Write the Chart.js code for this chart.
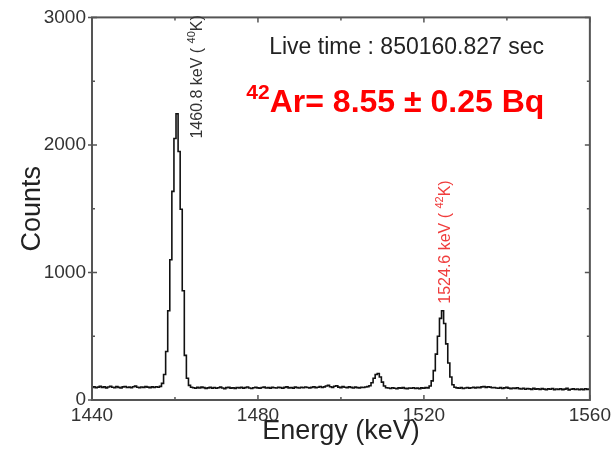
<!DOCTYPE html>
<html>
<head>
<meta charset="utf-8">
<script src="https://cdn.jsdelivr.net/npm/chart.js@4.4.0/dist/chart.umd.min.js"></script>
<style>
  html, body { margin: 0; padding: 0; background: #fff; }
</style>
</head>
<body>
<canvas id="spectrum" width="615" height="452"></canvas>
<script>
// Histogram bins: 0.5 keV wide, first bin centred at 1440 keV
const binStart = 1440;
const binWidth = 0.5;

// Counts per bin (1440.0 ... 1560.0 keV)
const counts = [
  // 1440.0 - 1456.5
  98, 104, 96, 101, 107, 99, 103, 95, 102, 108,
  100, 97, 105, 99, 94, 103, 106, 98, 101, 96,
  104, 109, 100, 97, 102, 99, 105, 101, 96, 103,
  98, 104, 100, 107,
  // 1457.0 - 1464.0  (40K line)
  130, 200, 380, 700, 1100, 1636, 2050, 2245, 1948, 1496,
  857, 350, 170, 115, 100,
  // 1464.5 - 1506.0
  96, 92, 99, 94, 101, 97, 90, 95, 100, 93,
  98, 92, 96, 101, 94, 89, 97, 99, 93, 96,
  91, 98, 95, 100, 93, 97, 102, 94, 90, 96,
  99, 95, 92, 98, 101, 94, 97, 93, 99, 96,
  94, 100, 97, 92, 99, 103, 95, 98, 93, 101,
  97, 94, 100, 96, 102, 98, 95, 99, 104, 97,
  100, 106, 98, 103, 110, 115, 104, 99, 108, 112,
  101, 97, 105, 100, 96, 103, 99, 94, 101, 97,
  95, 100, 98, 102,
  // 1506.5 - 1511.0
  105, 112, 135, 170, 200, 208, 180, 140, 110, 96,
  // 1511.5 - 1520.5
  94, 90, 96, 92, 88, 95, 93, 97, 91, 89,
  94, 92, 96, 90, 93, 88, 95, 92, 97,
  // 1521.0 - 1527.5  (42K line)
  95, 110, 150, 230, 360, 500, 640, 700, 600, 440,
  290, 180, 120, 100,
  // 1528.0 - 1560.0
  95, 92, 97, 90, 94, 98, 93, 96, 99, 95,
  100, 97, 103, 106, 99, 104, 101, 96, 98, 94,
  92, 97, 90, 95, 99, 93, 88, 94, 91, 96,
  89, 86, 92, 84, 90, 87, 83, 91, 85, 88,
  82, 89, 85, 80, 87, 84, 90, 81, 86, 83,
  88, 80, 85, 91, 79, 84, 87, 82, 86, 80,
  85, 81, 88, 83, 86
];

// Axis ticks
const xTicks = [1440, 1480, 1520, 1560];
const xMinorTicks = [1460, 1500, 1540];
const yTicks = [0, 1000, 2000, 3000];
const yMinorTicks = [500, 1500, 2500];

const FONT = "'Liberation Sans', Arial, Helvetica, sans-serif";

const points = counts.map((c, i) => ({ x: binStart + i * binWidth, y: c }));

// draw a run of text pieces (normal + superscript) starting at (0,0) of current transform
function drawRuns(ctx, runs) {
  let x = 0;
  runs.forEach(r => {
    ctx.font = r.font;
    ctx.fillText(r.text, x, r.dy || 0);
    x += ctx.measureText(r.text).width;
  });
  return x;
}

const framePlugin = {
  id: 'frameAndNotes',
  afterDraw(chart) {
    const ctx = chart.ctx;
    const a = chart.chartArea;
    const xs = chart.scales.x, ys = chart.scales.y;
    ctx.save();

    // frame
    ctx.strokeStyle = '#555';
    ctx.lineWidth = 2;
    ctx.strokeRect(a.left, a.top, a.right - a.left, a.bottom - a.top);

    // tick marks, pointing inwards
    ctx.lineWidth = 1.5;
    ctx.beginPath();
    xTicks.concat(xMinorTicks).forEach(v => {
      const px = xs.getPixelForValue(v);
      const len = xTicks.includes(v) ? 5 : 3;
      ctx.moveTo(px, a.bottom); ctx.lineTo(px, a.bottom - len);
      ctx.moveTo(px, a.top); ctx.lineTo(px, a.top + len);
    });
    yTicks.concat(yMinorTicks).forEach(v => {
      const py = ys.getPixelForValue(v);
      const len = yTicks.includes(v) ? 5 : 3;
      ctx.moveTo(a.left - (yTicks.includes(v) ? 4 : 0), py); ctx.lineTo(a.left + len, py);
      ctx.moveTo(a.right, py); ctx.lineTo(a.right - len, py);
    });
    ctx.stroke();

    // live time
    ctx.fillStyle = '#222';
    ctx.textBaseline = 'alphabetic';
    ctx.save();
    ctx.translate(xs.getPixelForValue(1482.7), ys.getPixelForValue(2712));
    drawRuns(ctx, [{ text: 'Live time : 850160.827 sec', font: '23px ' + FONT }]);
    ctx.restore();

    // 42Ar activity
    ctx.fillStyle = '#ff0000';
    ctx.save();
    ctx.translate(xs.getPixelForValue(1477.2), ys.getPixelForValue(2260));
    drawRuns(ctx, [
      { text: '42', font: 'bold 21px ' + FONT, dy: -13 },
      { text: 'Ar= 8.55 \u00b1 0.25 Bq', font: 'bold 32px ' + FONT }
    ]);
    ctx.restore();

    // rotated peak labels
    const peakNote = (energy, cnt, head, iso, color) => {
      ctx.save();
      ctx.fillStyle = color;
      ctx.translate(xs.getPixelForValue(energy) + 5, ys.getPixelForValue(cnt));
      ctx.rotate(-Math.PI / 2);
      drawRuns(ctx, [
        { text: head, font: '16px ' + FONT },
        { text: iso, font: '11px ' + FONT, dy: -7 },
        { text: 'K)', font: '16px ' + FONT }
      ]);
      ctx.restore();
    };
    peakNote(1465.2, 2050, '1460.8 keV ( ', '40', '#333');
    peakNote(1525.0, 755, '1524.6 keV ( ', '42', '#f03c3c');

    ctx.restore();
  }
};

new Chart(document.getElementById('spectrum'), {
  type: 'line',
  data: {
    datasets: [{
      label: 'Counts',
      data: points,
      borderColor: '#111',
      borderWidth: 1.6,
      pointRadius: 0,
      stepped: 'middle',
      fill: false
    }]
  },
  options: {
    responsive: false,
    animation: false,
    devicePixelRatio: 1,
    layout: { padding: { top: 15, right: 23, bottom: 0, left: 12 } },
    plugins: { legend: { display: false }, tooltip: { enabled: false } },
    scales: {
      x: {
        type: 'linear',
        min: 1440,
        max: 1560,
        afterBuildTicks: s => { s.ticks = xTicks.map(v => ({ value: v })); },
        afterFit: s => { s.height = 52; },
        grid: { display: false, drawTicks: false },
        border: { display: false },
        ticks: {
          color: '#333', font: { size: 19, family: FONT }, padding: 4, maxRotation: 0, autoSkip: false,
          callback: v => String(v)
        },
        title: { display: true, text: 'Energy (keV)', color: '#222', font: { size: 27, family: FONT } }
      },
      y: {
        type: 'linear',
        min: 0,
        max: 3000,
        afterBuildTicks: s => { s.ticks = yTicks.map(v => ({ value: v })); },
        afterFit: s => { s.width = 80; },
        grid: { display: false, drawTicks: false },
        border: { display: false },
        ticks: { color: '#333', font: { size: 19, family: FONT }, padding: 6, callback: v => String(v) },
        title: { display: true, text: 'Counts', color: '#222', font: { size: 27, family: FONT } }
      }
    }
  },
  plugins: [framePlugin]
});
</script>
</body>
</html>
